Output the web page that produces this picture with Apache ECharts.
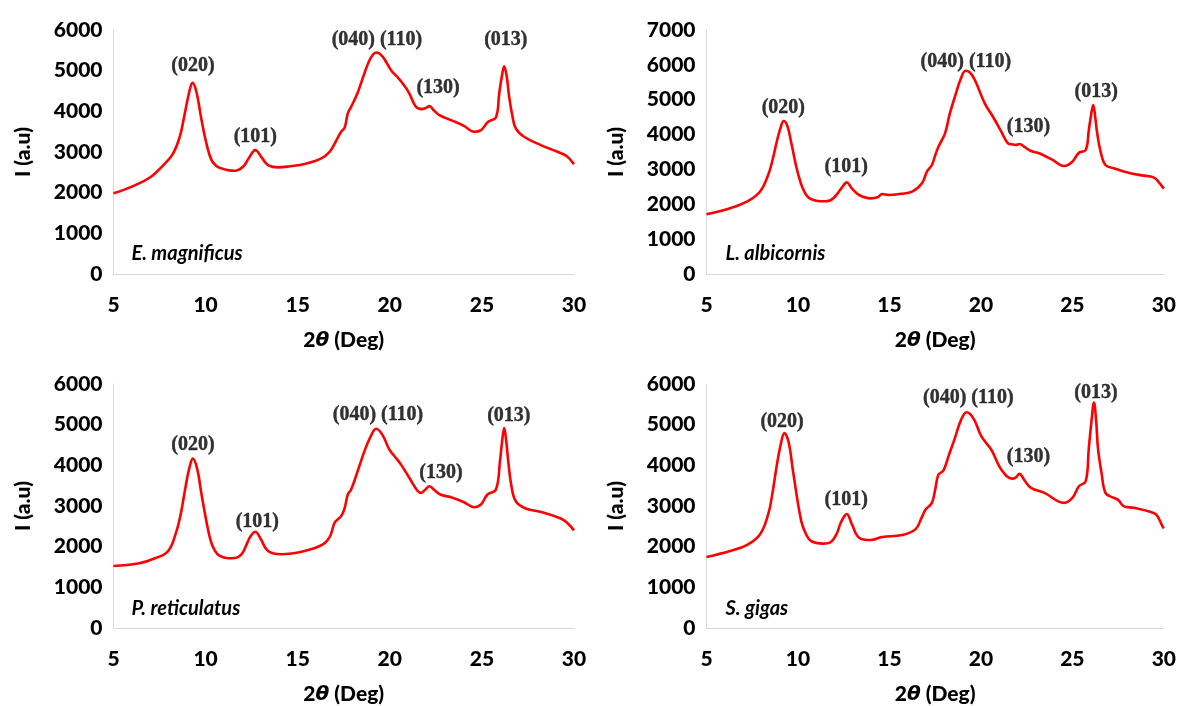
<!DOCTYPE html>
<html>
<head>
<meta charset="utf-8">
<script src="https://cdn.jsdelivr.net/npm/echarts@6/dist/echarts.min.js"></script>
<style>
  html, body { margin: 0; padding: 0; background: #fff; }
  #chart { width: 1179px; height: 706px; }
</style>
</head>
<body>
<div id="chart"></div>
<script>
// 2-theta positions and intensities
const magnificusX = [5, 6, 7, 7.8, 8.24, 8.6, 8.87, 9.1, 9.29, 9.5, 9.78, 10.05, 10.32, 10.6, 10.86, 11.2, 11.58, 12.03, 12.35, 12.7, 13.05, 13.39, 13.93, 14.6, 15.37, 16.28, 16.73, 17.0, 17.2, 17.36, 17.55, 17.72, 17.9, 18.25, 18.62, 18.95, 19.26, 19.6, 20.07, 20.4, 20.7, 21.05, 21.42, 21.73, 21.95, 22.15, 22.4, 22.69, 23.32, 24.0, 24.58, 24.95, 25.34, 25.76, 25.94, 26.08, 26.21, 26.35, 26.48, 26.65, 26.84, 27.29, 28.2, 29.1, 29.6, 30];
const magnificusY = [1983, 2150, 2380, 2720, 2966, 3380, 3948, 4450, 4700, 4480, 3784, 3200, 2800, 2650, 2597, 2555, 2539, 2637, 2850, 3047, 2860, 2678, 2621, 2650, 2703, 2842, 3006, 3200, 3374, 3500, 3600, 3950, 4111, 4450, 4931, 5300, 5447, 5350, 5012, 4850, 4685, 4450, 4111, 4054, 4080, 4128, 4020, 3907, 3784, 3650, 3497, 3538, 3743, 3850, 4440, 4850, 5110, 4850, 4357, 3900, 3580, 3374, 3170, 3006, 2900, 2700];

const albicornisX = [5, 6.29, 7.2, 7.92, 8.37, 8.6, 8.82, 9.05, 9.22, 9.42, 9.64, 10.0, 10.45, 10.99, 11.45, 11.75, 11.95, 12.15, 12.4, 12.67, 12.95, 13.34, 13.97, 14.35, 14.61, 14.97, 15.6, 16.24, 16.78, 17.05, 17.32, 17.5, 17.68, 18.04, 18.3, 18.58, 18.9, 19.16, 19.4, 19.67, 20.21, 20.66, 21.1, 21.48, 21.69, 21.9, 22.11, 22.4, 22.74, 23.19, 23.9, 24.55, 25.0, 25.36, 25.73, 25.9, 26.02, 26.14, 26.25, 26.36, 26.55, 26.81, 27.26, 28.17, 28.8, 29.34, 29.52, 29.7, 30];
const albicornisY = [1713, 1885, 2074, 2361, 2840, 3250, 3749, 4200, 4389, 4250, 3749, 2889, 2266, 2103, 2085, 2110, 2180, 2300, 2480, 2630, 2450, 2266, 2171, 2200, 2295, 2266, 2300, 2361, 2602, 2935, 3127, 3400, 3652, 4036, 4600, 5086, 5600, 5832, 5780, 5565, 4897, 4512, 4100, 3749, 3720, 3700, 3729, 3640, 3528, 3462, 3280, 3098, 3222, 3480, 3557, 4131, 4550, 4848, 4500, 4036, 3500, 3127, 3032, 2889, 2830, 2791, 2745, 2650, 2450];

const reticulatusX = [5, 6.34, 7.25, 7.97, 8.42, 8.65, 8.87, 9.1, 9.31, 9.55, 9.78, 10.23, 10.5, 10.77, 11.22, 11.6, 11.85, 12.05, 12.25, 12.45, 12.7, 12.98, 13.39, 14.11, 15.37, 16.37, 16.75, 17.0, 17.2, 17.36, 17.55, 17.72, 17.9, 18.25, 18.62, 18.95, 19.26, 19.6, 19.98, 20.3, 20.61, 21.05, 21.51, 21.7, 21.92, 22.15, 22.4, 22.74, 23.32, 24.0, 24.58, 24.95, 25.3, 25.76, 25.98, 26.1, 26.21, 26.32, 26.43, 26.6, 26.84, 27.38, 28.28, 29.28, 29.6, 30];
const reticulatusY = [1526, 1584, 1714, 1893, 2383, 2800, 3363, 3900, 4164, 3900, 3282, 2221, 1900, 1771, 1714, 1720, 1770, 1880, 2080, 2260, 2368, 2200, 1893, 1812, 1893, 2057, 2250, 2589, 2680, 2750, 2950, 3282, 3404, 3850, 4343, 4700, 4898, 4750, 4384, 4200, 4017, 3700, 3370, 3323, 3400, 3485, 3400, 3282, 3216, 3100, 2971, 3037, 3282, 3404, 4098, 4600, 4915, 4600, 4098, 3500, 3118, 2939, 2849, 2694, 2600, 2400];

const gigasX = [5, 6.29, 7.2, 7.92, 8.37, 8.6, 8.82, 9.05, 9.26, 9.5, 9.73, 10.18, 10.45, 10.72, 11.36, 11.75, 11.95, 12.15, 12.35, 12.67, 12.95, 13.34, 13.97, 14.61, 15.7, 16.42, 16.75, 16.96, 17.32, 17.5, 17.68, 17.95, 18.25, 18.58, 18.9, 19.22, 19.6, 20.03, 20.57, 21.12, 21.69, 21.9, 22.11, 22.4, 22.74, 23.47, 24.55, 25.0, 25.36, 25.73, 25.9, 26.05, 26.18, 26.3, 26.4, 26.6, 26.81, 27.17, 27.5, 27.8, 28.35, 29.25, 29.6, 29.92, 30];
const gigasY = [1746, 1893, 2040, 2302, 2792, 3300, 3936, 4500, 4793, 4550, 3853, 2628, 2300, 2138, 2074, 2100, 2190, 2350, 2600, 2800, 2550, 2221, 2163, 2237, 2286, 2425, 2700, 2900, 3078, 3400, 3772, 3870, 4250, 4670, 5100, 5307, 5150, 4710, 4384, 3894, 3674, 3700, 3789, 3620, 3446, 3323, 3078, 3200, 3485, 3608, 4425, 5100, 5543, 5100, 4425, 3800, 3323, 3216, 3150, 2997, 2955, 2857, 2780, 2505, 2450];

// peak annotations: text and anchor (2theta, intensity) of the text centre
const peakNames = ['(020)', '(101)', '(040) (110)', '(130)', '(013)'];
const magnificusPeakX = [9.31, 12.70, 19.30, 22.62, 26.30];
const magnificusPeakY = [5110, 3366, 5749, 4570, 5749];
const albicornisPeakX = [9.20, 12.64, 19.18, 22.60, 26.30];
const albicornisPeakY = [4770, 3078, 6090, 4208, 5230];
const reticulatusPeakX = [9.31, 12.81, 19.36, 22.78, 26.46];
const reticulatusPeakY = [4506, 2620, 5241, 3813, 5224];
const gigasPeakX = [9.13, 12.64, 19.31, 22.60, 26.29];
const gigasPeakY = [5077, 3159, 5650, 4220, 5773];

const species = ['E. magnificus', 'L. albicornis', 'P. reticulatus', 'S. gigas'];
const yMax = [6000, 7000, 6000, 6000];
const xTicks = [5, 10, 15, 20, 25, 30];

const panels = [
  { x: magnificusX, y: magnificusY, px: magnificusPeakX, py: magnificusPeakY },
  { x: albicornisX, y: albicornisY, px: albicornisPeakX, py: albicornisPeakY },
  { x: reticulatusX, y: reticulatusY, px: reticulatusPeakX, py: reticulatusPeakY },
  { x: gigasX, y: gigasY, px: gigasPeakX, py: gigasPeakY }
];

const grids = [
  { left: 113.5, top: 30, width: 460.5, height: 244 },
  { left: 706.5, top: 30, width: 461, height: 244 },
  { left: 113.5, top: 384, width: 460.5, height: 245 },
  { left: 706.5, top: 384, width: 461, height: 245 }
];

const tickFont = { color: '#000', fontFamily: 'Lato', fontWeight: 900, fontSize: 21 };
const axisLineStyle = { show: true, lineStyle: { color: '#d9d9d9', width: 1 } };

const chart = echarts.init(document.getElementById('chart'));

const xAxis = [];
const yAxis = [];
const series = [];
const graphic = [];

panels.forEach((p, i) => {
  xAxis.push({
    type: 'value',
    gridIndex: i,
    min: xTicks[0],
    max: xTicks[xTicks.length - 1],
    interval: 5,
    axisLine: axisLineStyle,
    axisTick: { show: false },
    splitLine: { show: false },
    axisLabel: Object.assign({ margin: 21 }, tickFont),
    name: '2{t|θ} (Deg)',
    nameLocation: 'middle',
    nameGap: 56,
    nameTextStyle: Object.assign({}, tickFont, {
      rich: {
        t: { fontFamily: 'DejaVu Sans', fontStyle: 'italic', fontWeight: 'bold', fontSize: 20, color: '#000' }
      }
    })
  });
  yAxis.push({
    type: 'value',
    gridIndex: i,
    min: 0,
    max: yMax[i],
    interval: 1000,
    axisLine: axisLineStyle,
    axisTick: { show: false },
    splitLine: { show: false },
    axisLabel: Object.assign({ margin: 11, formatter: v => String(v) }, tickFont),
    name: 'I (a.u)',
    nameLocation: 'middle',
    nameRotate: 90,
    nameGap: 80,
    nameTextStyle: tickFont
  });
  series.push({
    type: 'line',
    xAxisIndex: i,
    yAxisIndex: i,
    data: p.x.map((v, k) => [v, p.y[k]]),
    showSymbol: false,
    smooth: 0.4,
    lineStyle: { color: '#ff0000', width: 2.6 },
    silent: true
  });
  series.push({
    type: 'scatter',
    xAxisIndex: i,
    yAxisIndex: i,
    symbolSize: 0,
    silent: true,
    data: peakNames.map((n, k) => ({ name: n, value: [p.px[k], p.py[k]] })),
    label: {
      show: true,
      position: 'inside',
      formatter: '{b}',
      color: '#000',
      fontFamily: 'Liberation Serif',
      fontWeight: 'bold',
      fontSize: 20,
      textBorderColor: '#000',
      textBorderWidth: 0.4
    }
  });
  const g = grids[i];
  graphic.push({
    type: 'text',
    left: g.left + (i % 2 === 0 ? 18 : 19),
    top: g.top + g.height - 30,
    style: {
      text: species[i],
      fill: '#000',
      font: 'italic bold 20px Lato'
    }
  });
});

chart.setOption({
  animation: false,
  backgroundColor: '#fff',
  grid: grids,
  xAxis: xAxis,
  yAxis: yAxis,
  series: series,
  graphic: graphic
});
</script>
</body>
</html>
